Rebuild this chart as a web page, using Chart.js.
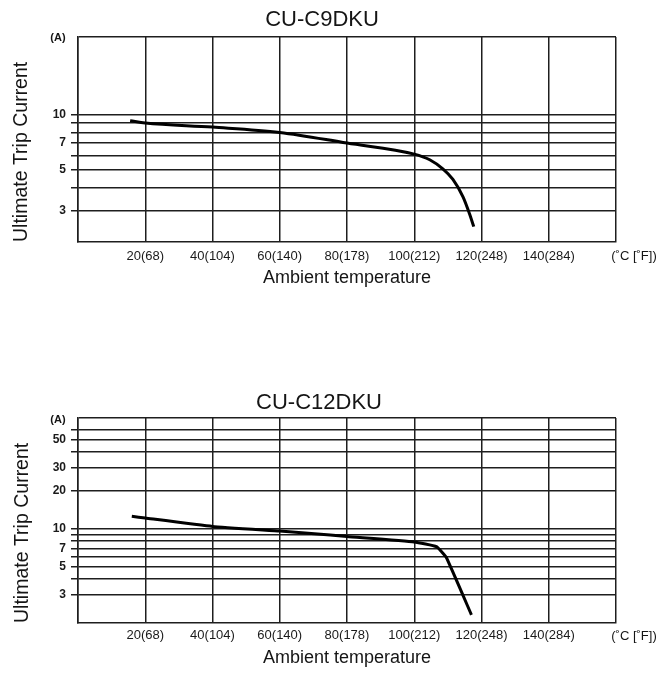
<!DOCTYPE html>
<html><head><meta charset="utf-8">
<script src="https://cdn.jsdelivr.net/npm/chart.js@4/dist/chart.umd.min.js"></script>
<style>
html,body{margin:0;padding:0;background:#fff;width:660px;height:673px;overflow:hidden;}
#c1{position:absolute;left:0;top:0;}
#c2{position:absolute;left:0;top:380px;}
</style></head><body>
<canvas id="c1" width="660" height="300"></canvas>
<canvas id="c2" width="660" height="293"></canvas>
<script>
// ---- data ----
const xTickValues = [0, 20, 40, 60, 80, 100, 120, 140, 160];
const xTickLabels = ['', '20(68)', '40(104)', '60(140)', '80(178)', '100(212)', '120(248)', '140(284)', ''];

const titleC9 = 'CU-C9DKU';
const tempsC9 = [15.5, 20, 40, 60, 80, 100, 104.6, 108.5, 111.5, 114.5, 116.4, 117.7];
const currentC9 = [9.25, 9.0, 8.55, 8.0, 7.0, 6.1, 5.68, 5.07, 4.44, 3.57, 2.9, 2.46];
const yGridC9 = [3, 4, 5, 6, 7, 8, 9, 10];
const yLabelC9 = [3, 5, 7, 10];
const yRangeC9 = [2.03, 26.4];

const titleC12 = 'CU-C12DKU';
const tempsC12 = [16, 20, 40, 60, 75, 80, 100, 106.6, 109.5, 117];
const currentC12 = [12.5, 12.1, 10.4, 9.55, 8.9, 8.65, 7.85, 7.2, 5.95, 2.1];
const yGridC12 = [3, 4, 5, 6, 7, 8, 9, 10, 20, 30, 40, 50, 60];
const yLabelC12 = [3, 5, 7, 10, 20, 30, 50];
const yRangeC12 = [1.81, 74];

const FONT = '"Liberation Sans", Arial, Helvetica, sans-serif';
const GRID = '#1e1e1e';
const TXT = '#151515';

const textPlugin = {
  id: 'extraTexts',
  afterDraw(chart, args, o) {
    const ctx = chart.ctx;
    ctx.save();
    ctx.fillStyle = TXT;
    ctx.textAlign = 'center';
    ctx.textBaseline = 'middle';
    ctx.font = '22px ' + FONT;
    ctx.fillText(o.title, o.titleX, o.titleY);
    ctx.font = 'bold 11px ' + FONT;
    ctx.fillText('(A)', 58, o.unitY);
    ctx.font = '13px ' + FONT;
    ctx.fillText('(\u02DAC [\u02DAF])', 634, o.unitXY);
    ctx.restore();
  }
};

function makeChart(id, cfg) {
  const [ymin, ymax] = cfg.yRange;
  return new Chart(document.getElementById(id), {
    type: 'line',
    data: {
      datasets: [{
        data: cfg.temps.map((t, i) => ({x: t, y: cfg.current[i]})),
        borderColor: '#000',
        borderWidth: 3,
        pointRadius: 0,
        fill: false,
        cubicInterpolationMode: cfg.smooth ? 'monotone' : 'default',
        tension: cfg.smooth ? 0.4 : 0.12
      }]
    },
    options: {
      responsive: false,
      animation: false,
      devicePixelRatio: 1,
      layout: {padding: {left: 0, right: 44, top: cfg.padTop, bottom: 0}},
      plugins: {
        legend: {display: false},
        tooltip: {enabled: false},
        extraTexts: {title: cfg.title, titleX: cfg.titleX, titleY: cfg.titleY, unitY: cfg.unitY, unitXY: cfg.unitXY}
      },
      scales: {
        x: {
          type: 'linear',
          min: 0, max: 160,
          afterBuildTicks: s => { s.ticks = xTickValues.map(v => ({value: v})); },
          afterFit: s => { s.height = cfg.xHeight; },
          ticks: {
            autoSkip: false, maxRotation: 0, padding: cfg.xTickPad,
            color: '#1a1a1a', font: {family: FONT, size: 13},
            callback: (v, i) => xTickLabels[i]
          },
          grid: {color: GRID, lineWidth: 1.5, drawTicks: false},
          border: {color: GRID, width: 1.5},
          title: {display: true, text: 'Ambient temperature', color: TXT,
                  font: {family: FONT, size: 18}, padding: {top: 0, bottom: cfg.xTitlePad}}
        },
        y: {
          type: 'logarithmic',
          min: ymin, max: ymax,
          afterBuildTicks: s => {
            s.ticks = cfg.yGrid.concat([ymax]).map(v => ({value: v}));
            s.min = ymin; s.max = ymax;
          },
          afterFit: s => { s.width = 78; },
          ticks: {
            autoSkip: false, padding: 5, color: '#1a1a1a',
            font: {family: FONT, size: 12, weight: 'bold'},
            callback: v => cfg.yLabels.includes(v) ? String(v) : ''
          },
          grid: {
            color: GRID, lineWidth: 1.5, drawTicks: true, tickLength: 7,
            tickColor: c => (c.tick && c.tick.value === ymax) ? 'rgba(0,0,0,0)' : GRID
          },
          border: {color: GRID, width: 1.5},
          title: {display: true, text: 'Ultimate Trip Current', color: TXT, align: 'start',
                  font: {family: FONT, size: 19.5}, padding: {top: cfg.yTitlePad, bottom: 0}}
        }
      }
    },
    plugins: [textPlugin]
  });
}

makeChart('c1', {
  title: titleC9, temps: tempsC9, current: currentC9, yGrid: yGridC9, yLabels: yLabelC9,
  yRange: yRangeC9, smooth: true, padTop: 37, xHeight: 58, xTickPad: 7, xTitlePad: 11,
  yTitlePad: 10.3, titleX: 322, titleY: 20, unitY: 38, unitXY: 256
});
makeChart('c2', {
  title: titleC12, temps: tempsC12, current: currentC12, yGrid: yGridC12, yLabels: yLabelC12,
  yRange: yRangeC12, smooth: false, padTop: 38, xHeight: 50, xTickPad: 5, xTitlePad: 4,
  yTitlePad: 11.3, titleX: 319, titleY: 22.5, unitY: 40, unitXY: 256
});
</script>
</body></html>
